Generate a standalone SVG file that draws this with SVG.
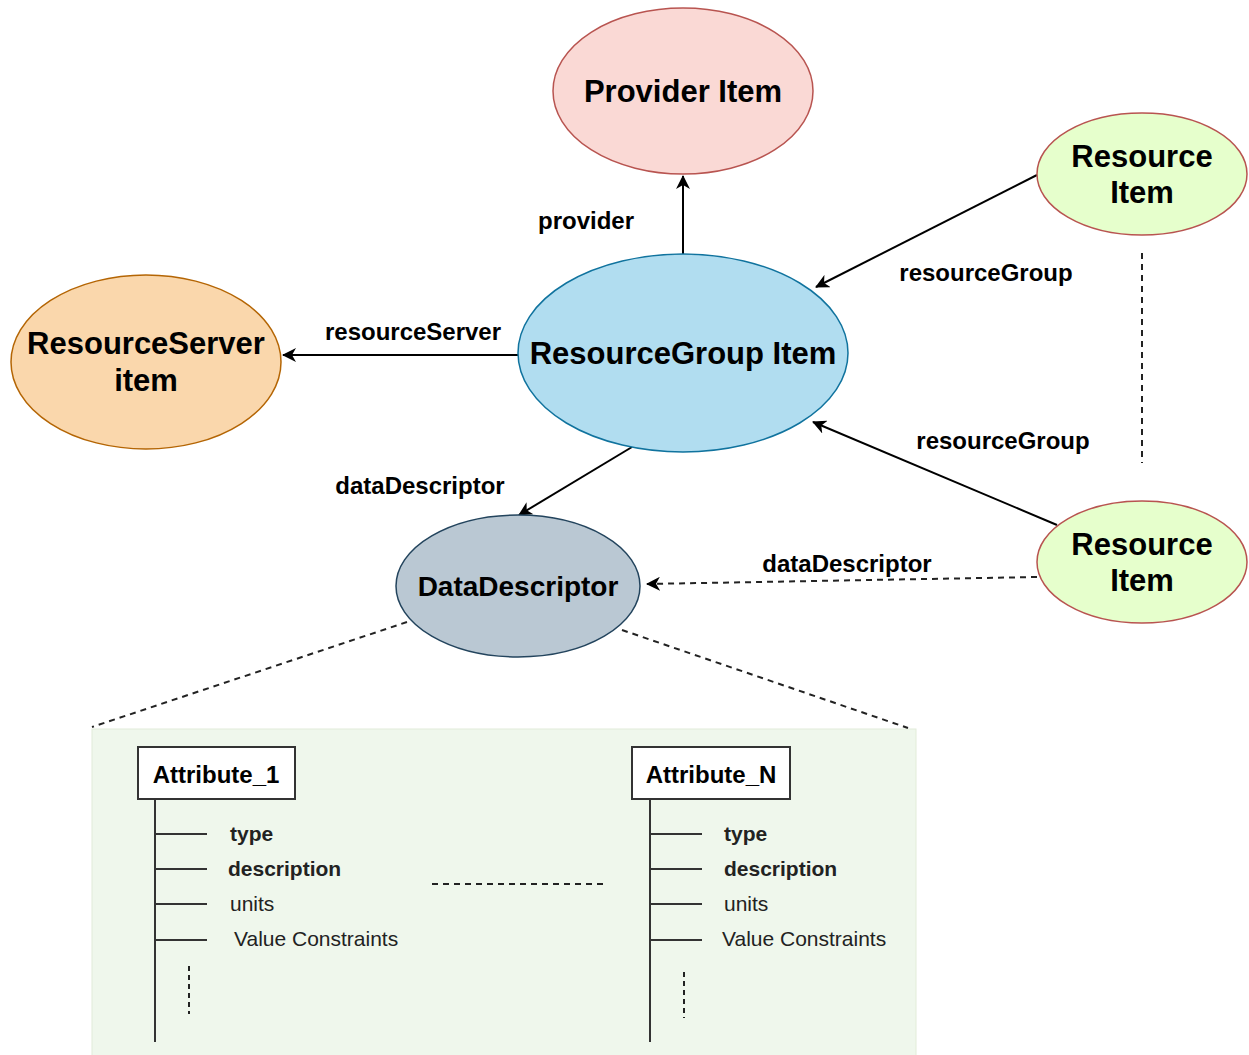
<svg xmlns="http://www.w3.org/2000/svg" width="1249" height="1055" viewBox="0 0 1249 1055">
<defs>
<marker id="arr" viewBox="0 0 14 14" refX="13" refY="7" markerWidth="14" markerHeight="14" markerUnits="userSpaceOnUse" orient="auto">
<path d="M0,0 L14,7 L0,14 L4,7 Z" fill="#000"/>
</marker>
<style>
text{font-family:"Liberation Sans",Arial,sans-serif;fill:#000}
.big{font-size:31px;font-weight:bold;text-anchor:middle}
.lbl{font-size:24px;font-weight:bold;text-anchor:middle}
.attr{font-size:24px;font-weight:bold;text-anchor:middle}
.fb{font-size:21px;font-weight:bold;fill:#222}
.fr{font-size:21px;fill:#222}
.edge{stroke:#000;stroke-width:2;fill:none}
.dash{stroke:#222;stroke-width:2;fill:none;stroke-dasharray:6,5}
.tree{stroke:#333;stroke-width:2;fill:none}
</style>
</defs>
<rect width="1249" height="1055" fill="#fff"/>
<g id="detail-panel">
<rect x="92" y="729" width="824" height="330" fill="#eff7ec" stroke="#e2ecd9" stroke-width="1"/>
</g>
<g id="connectors">
<line class="edge" x1="683" y1="254" x2="683" y2="176" marker-end="url(#arr)"/>
<line class="edge" x1="518" y1="355" x2="283" y2="355" marker-end="url(#arr)"/>
<line class="edge" x1="1037" y1="175" x2="816" y2="287" marker-end="url(#arr)"/>
<line class="edge" x1="1057" y1="525" x2="813" y2="422" marker-end="url(#arr)"/>
<line class="edge" x1="632" y1="447" x2="519" y2="515" marker-end="url(#arr)"/>
<line class="dash" x1="1037" y1="577" x2="647" y2="584" marker-end="url(#arr)"/>
<line class="dash" x1="1142" y1="253" x2="1142" y2="463"/>
<line class="dash" x1="407" y1="622" x2="92" y2="727"/>
<line class="dash" x1="622" y1="630" x2="908" y2="728"/>
<line class="dash" x1="432" y1="884" x2="606" y2="884"/>
<text class="lbl" x="586" y="229">provider</text>
<text class="lbl" x="413" y="340">resourceServer</text>
<text class="lbl" x="986" y="281">resourceGroup</text>
<text class="lbl" x="1003" y="449">resourceGroup</text>
<text class="lbl" x="420" y="494">dataDescriptor</text>
<text class="lbl" x="847" y="572">dataDescriptor</text>
</g>
<g id="provider-item">
<ellipse cx="683" cy="91" rx="130" ry="83" fill="#fad9d5" stroke="#b85450" stroke-width="1.5"/>
<text class="big" x="683" y="102">Provider Item</text>
</g>
<g id="resourcegroup-item">
<ellipse cx="683" cy="353" rx="165" ry="99" fill="#b1ddf0" stroke="#10739e" stroke-width="1.5"/>
<text class="big" x="683" y="364">ResourceGroup Item</text>
</g>
<g id="resourceserver-item">
<ellipse cx="146" cy="362" rx="135" ry="87" fill="#fad7ac" stroke="#b46504" stroke-width="1.5"/>
<text class="big" x="146" y="354">ResourceServer</text>
<text class="big" x="146" y="391">item</text>
</g>
<g id="resource-item-1">
<ellipse cx="1142" cy="174" rx="105" ry="61" fill="#e6ffcc" stroke="#b85450" stroke-width="1.5"/>
<text class="big" x="1142" y="167">Resource</text>
<text class="big" x="1142" y="203">Item</text>
</g>
<g id="resource-item-2">
<ellipse cx="1142" cy="562" rx="105" ry="61" fill="#e6ffcc" stroke="#b85450" stroke-width="1.5"/>
<text class="big" x="1142" y="555">Resource</text>
<text class="big" x="1142" y="591">Item</text>
</g>
<g id="datadescriptor">
<ellipse cx="518" cy="586" rx="122" ry="71" fill="#bac8d3" stroke="#23445d" stroke-width="1.5"/>
<text class="big" x="518" y="596" style="font-size:28px">DataDescriptor</text>
</g>
<g id="attribute-1">
<rect x="138" y="747" width="157" height="52" fill="#fff" stroke="#333" stroke-width="2"/>
<text class="attr" x="216" y="783">Attribute_1</text>
<path class="tree" d="M155,799 V1042 M155,834 H207 M155,869 H207 M155,904 H207 M155,940 H207"/>
<line class="dash" x1="189" y1="966" x2="189" y2="1014" style="stroke-dasharray:5,4"/>
<text class="fb" x="230" y="841">type</text>
<text class="fb" x="228" y="876">description</text>
<text class="fr" x="230" y="911">units</text>
<text class="fr" x="234" y="946">Value Constraints</text>
</g>
<g id="attribute-n">
<rect x="632" y="747" width="158" height="52" fill="#fff" stroke="#333" stroke-width="2"/>
<text class="attr" x="711" y="783">Attribute_N</text>
<path class="tree" d="M650,799 V1042 M650,834 H702 M650,869 H702 M650,904 H702 M650,940 H702"/>
<line class="dash" x1="684" y1="972" x2="684" y2="1018" style="stroke-dasharray:5,4"/>
<text class="fb" x="724" y="841">type</text>
<text class="fb" x="724" y="876">description</text>
<text class="fr" x="724" y="911">units</text>
<text class="fr" x="722" y="946">Value Constraints</text>
</g>
</svg>
